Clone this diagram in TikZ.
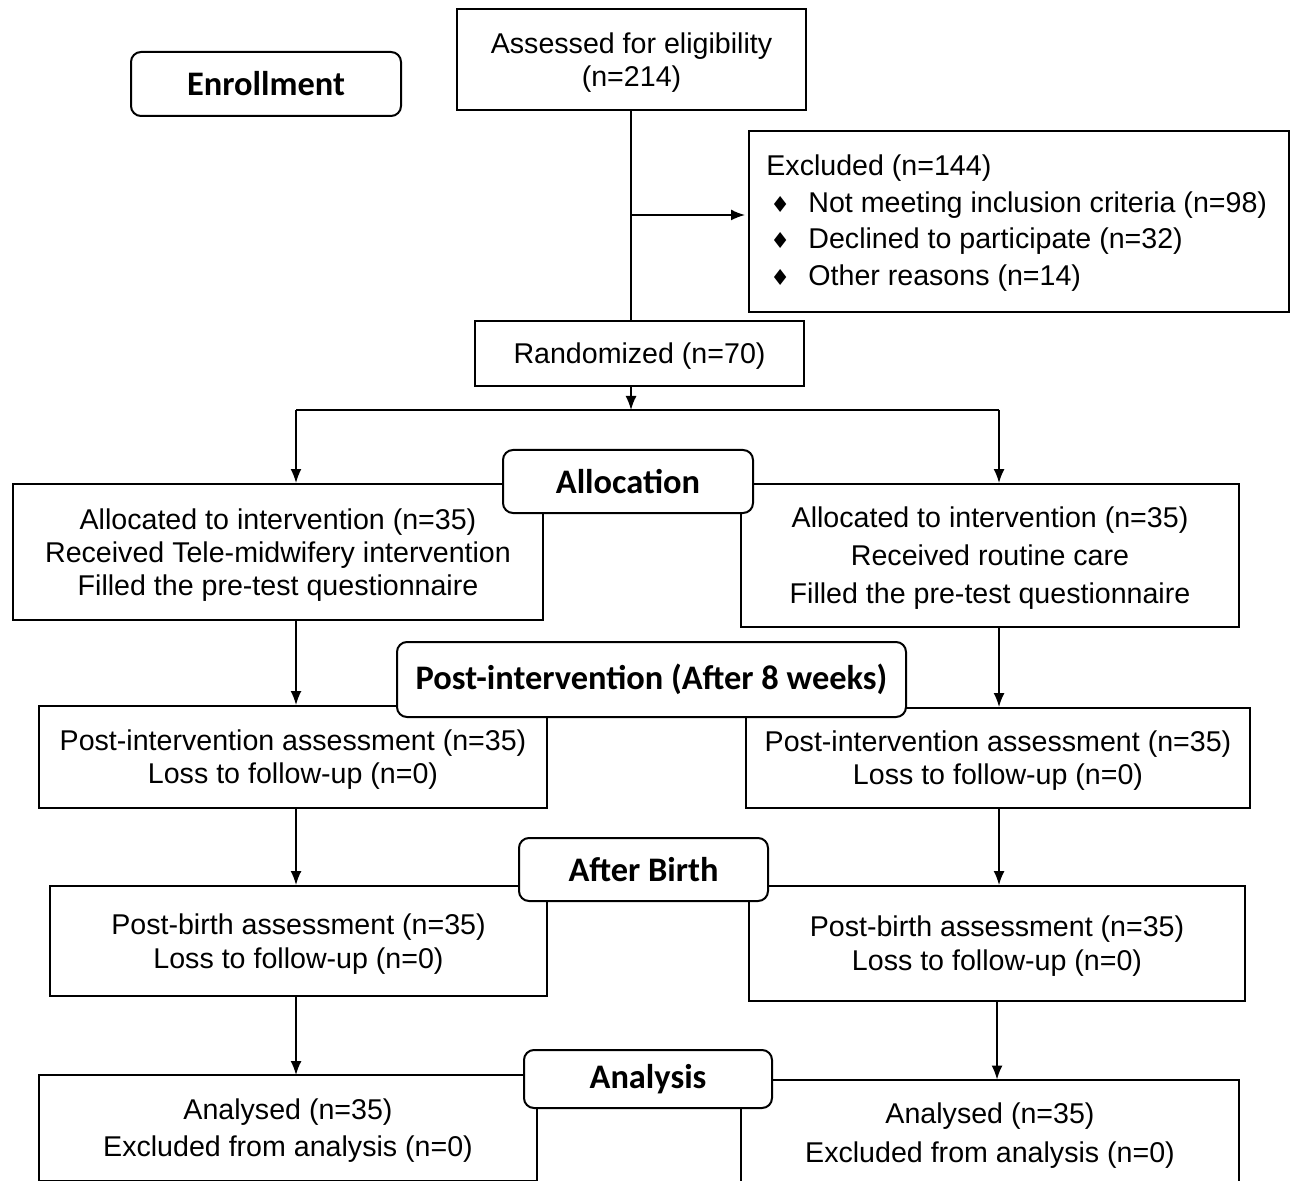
\documentclass[tikz,border=0pt]{standalone}
\usepackage{fontspec}
\setmainfont{Liberation Sans}
\newfontfamily\labfont{Carlito}
\newfontfamily\symfont{DejaVu Sans}
\usetikzlibrary{arrows.meta}
\newcommand\bul{\makebox[21pt][l]{\hspace{2pt}{\symfont\fontsize{11}{11}\selectfont ♦}}}
\begin{document}
\begin{tikzpicture}[x=0.5pt,y=-0.5pt,
  box/.style={draw, line width=1pt, inner sep=0pt, align=center, fill=white, text depth=0pt},
  lab/.style={draw, line width=1pt, rounded corners=5pt, fill=white, inner sep=0pt,
              font=\labfont\bfseries\fontsize{17.2}{18}\selectfont},
  arr/.style={line width=0.8pt, -{Latex[length=7pt,width=5.5pt]}},
  ln/.style={line width=0.8pt},
  fA/.style={font=\fontsize{14.3}{16.2}\selectfont},
  fB/.style={font=\fontsize{14.3}{16.5}\selectfont},
  fC/.style={font=\fontsize{14.3}{18.3}\selectfont},
  fD/.style={font=\fontsize{14.3}{19}\selectfont},
  fE/.style={font=\fontsize{14.3}{17}\selectfont},
  fF/.style={font=\fontsize{14.3}{18.6}\selectfont},
  fG/.style={font=\fontsize{14.3}{19.5}\selectfont}]
\fill[white] (0,0) rectangle (1294,1181);
\useasboundingbox (0,0) rectangle (1294,1181);
\clip (0,0) rectangle (1294,1181);

% column coordinates
\coordinate (cl) at (296,0);
\coordinate (cr) at (999,0);
\coordinate (cr2) at (997,0);

% boxes
\node[box, fA, minimum width=174.5pt, minimum height=50.5pt] (assess) at (631.5,59.5) {Assessed for eligibility\\(n=214)};
\node[box, minimum width=270pt, minimum height=90.5pt] (excl) at (1019,221.5) {};
\node[anchor=west, align=left, inner sep=0pt, text depth=0pt, fC] (excltxt) at (766,220) {Excluded (n=144)\\\bul Not meeting inclusion criteria (n=98)\\\bul Declined to participate (n=32)\\\bul Other reasons (n=14)};
\node[box, fA, minimum width=164.5pt, minimum height=32.5pt] (rand) at (639.5,353.5) {Randomized (n=70)};

\node[box, fB, minimum width=265pt, minimum height=68pt] (al1) at (278,552) {Allocated to intervention (n=35)\\Received Tele-midwifery intervention\\Filled the pre-test questionnaire};
\node[box, fD, minimum width=249pt, minimum height=71.5pt] (al2) at (990,555.5) {Allocated to intervention (n=35)\\Received routine care\\Filled the pre-test questionnaire};

\node[box, fB, minimum width=254pt, minimum height=51pt] (po1) at (293,757) {Post-intervention assessment (n=35)\\Loss to follow-up (n=0)};
\node[box, fB, minimum width=252pt, minimum height=50pt] (po2) at (998,758) {Post-intervention assessment (n=35)\\Loss to follow-up (n=0)};

\node[box, fE, minimum width=248.5pt, minimum height=55pt] (bi1) at (298.5,941) {Post-birth assessment (n=35)\\Loss to follow-up (n=0)};
\node[box, fE, minimum width=248pt, minimum height=57.5pt] (bi2) at (997,943.5) {Post-birth assessment (n=35)\\Loss to follow-up (n=0)};

\node[box, fF, minimum width=249pt, minimum height=53pt] (an1) at (288,1128) {Analysed (n=35)\\Excluded from analysis (n=0)};
\node[box, fG, minimum width=249pt, minimum height=53.5pt] (an2) at (990,1133) {Analysed (n=35)\\Excluded from analysis (n=0)};

% connectors
\coordinate (br) at (631,215);
\coordinate (sp) at (631,410);
\coordinate (spL) at (296,410);
\coordinate (spR) at (999,410);
\draw[ln] (assess.south -| br) -- (rand.north -| br);
\draw[arr] (br) -- ([xshift=-1.5pt]excl.west |- br);
\draw[arr] (rand.south -| sp) -- (sp);
\draw[ln] (spL) -- (spR);
\draw[arr] (spL) -- (al1.north -| spL);
\draw[arr] (spR) -- (al2.north -| spR);
\draw[arr] (al1.south -| cl) -- (po1.north -| cl);
\draw[arr] (al2.south -| cr) -- (po2.north -| cr);
\draw[arr] (po1.south -| cl) -- (bi1.north -| cl);
\draw[arr] (po2.south -| cr) -- (bi2.north -| cr);
\draw[arr] (bi1.south -| cl) -- ([yshift=-0.5pt]an1.north -| cl);
\draw[arr] (bi2.south -| cr2) -- ([yshift=-0.5pt]an2.north -| cr2);

% stage labels
\node[lab, minimum width=135pt, minimum height=32pt] (enrol) at (266,84) {Enrollment};
\node[lab, minimum width=125pt, minimum height=31.5pt] (alloc) at (628,481.5) {Allocation};
\node[lab, minimum width=254.5pt, minimum height=37.5pt] (postlab) at (651.5,679.5) {Post-intervention (After 8 weeks)};
\node[lab, minimum width=124.5pt, minimum height=31.5pt] (birthlab) at (643.5,869.5) {After Birth};
\node[lab, minimum width=124pt, minimum height=29pt] (analab) at (648,1079) {Analysis};
\end{tikzpicture}
\end{document}
